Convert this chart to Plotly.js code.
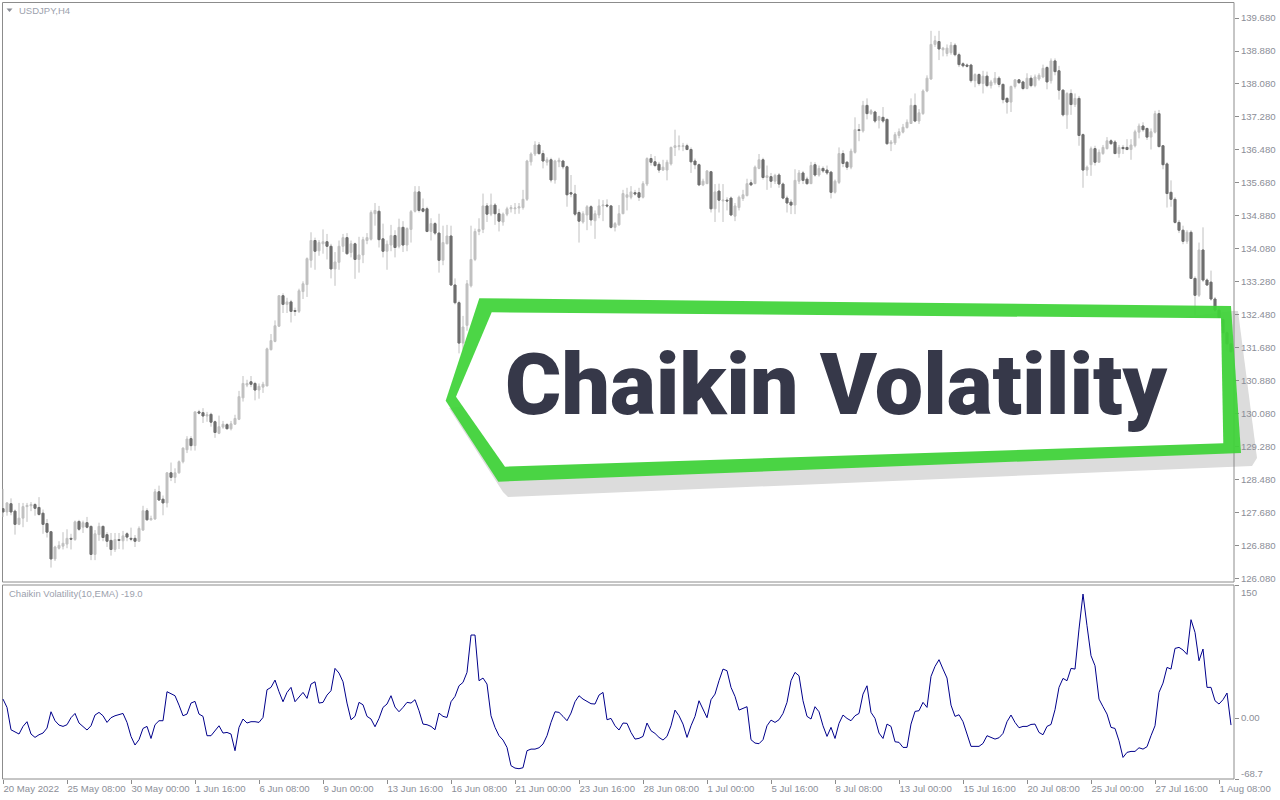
<!DOCTYPE html>
<html><head><meta charset="utf-8">
<script src="https://cdn.plot.ly/plotly-3.0.1.min.js"></script>
<style>html,body{margin:0;padding:0;background:#fff;}#chart{width:1280px;height:800px;}</style>
</head><body><div id="chart"></div>
<script>
// ---- USDJPY H4 candles (index 0 = 20 May 2022 16:00) ----
const openP = [
127.77,127.69,127.89,127.71,127.39,127.54,127.82,127.84,127.87,127.80,
127.66,127.41,127.21,126.55,126.81,126.86,126.91,127.05,127.02,127.46,
127.32,127.43,127.34,126.66,127.14,127.34,127.14,127.00,126.78,127.02,
126.99,127.16,127.05,127.05,126.98,127.25,127.72,127.50,127.52,128.18,
128.00,127.91,128.64,128.53,128.64,128.91,129.20,129.47,129.30,130.12,
130.10,130.02,130.06,129.88,129.60,129.75,129.81,129.71,129.82,129.94,
130.46,130.77,130.85,130.81,130.65,130.72,130.75,131.63,131.83,132.20,
132.94,132.73,132.79,132.58,132.56,133.04,133.21,133.80,134.28,134.03,
134.20,134.25,134.14,133.59,133.75,134.14,134.35,133.99,134.20,133.82,
133.93,134.28,134.31,134.93,134.99,134.32,134.02,134.17,134.40,134.14,
134.60,134.17,134.55,134.99,135.46,135.05,135.05,134.50,134.69,134.46,
133.80,134.20,134.39,133.20,132.77,131.79,132.22,133.18,133.82,134.50,
134.55,135.12,134.92,135.14,134.93,134.73,134.92,135.05,135.05,135.07,
135.08,135.28,136.19,136.38,136.60,136.39,136.18,136.24,135.75,136.19,
136.21,136.07,135.44,135.41,134.96,134.73,134.90,135.10,134.76,134.90,
135.12,135.14,135.12,134.60,134.66,134.93,135.33,135.33,135.44,135.44,
135.33,135.65,136.27,136.19,136.13,135.99,135.99,136.14,136.54,136.56,
136.56,136.58,136.49,136.21,136.12,135.63,135.66,135.95,135.05,135.48,
135.24,135.26,135.31,134.87,135.08,135.30,135.37,135.68,135.66,136.03,
136.24,135.81,135.83,135.72,135.87,135.65,135.31,135.21,135.14,135.72,
135.92,135.77,135.66,136.12,135.87,136.03,135.99,135.94,135.45,135.69,
136.39,136.18,136.06,136.42,136.97,136.94,137.56,137.36,137.40,137.20,
137.27,137.22,136.63,136.65,136.83,136.91,137.02,137.12,137.56,137.18,
137.36,137.91,138.20,139.04,139.11,138.91,138.82,138.84,139.02,138.79,
138.57,138.54,138.54,138.16,138.31,138.09,138.27,138.04,138.11,138.22,
138.07,137.73,137.64,138.02,138.18,138.13,137.97,138.22,138.04,138.20,
138.25,138.48,138.16,138.64,138.40,137.93,137.33,137.85,137.58,137.73,
136.85,135.99,136.12,136.51,136.18,136.39,136.51,136.70,136.67,136.39,
136.54,136.54,136.49,136.58,136.91,137.06,137.00,136.79,136.91,137.36,
136.58,136.14,135.45,135.28,134.72,134.53,134.26,134.48,133.36,132.95,
134.05,133.32,133.27,132.86,132.59,132.36,132.04,131.77];
const highP = [
128.25,127.93,128.02,127.75,127.91,127.91,127.91,127.93,127.91,128.05,
127.75,127.52,127.23,126.87,126.98,127.20,127.27,127.16,127.48,127.50,
127.48,127.57,127.36,127.25,127.43,127.36,127.20,127.18,127.18,127.18,
127.23,127.20,127.31,127.13,127.34,127.84,127.78,127.60,128.25,128.33,
128.09,128.66,128.89,128.75,128.94,129.26,129.53,129.53,130.12,130.17,
130.21,130.12,130.10,129.91,130.03,129.90,129.85,129.90,130.05,130.63,
130.99,130.90,130.99,130.85,130.81,130.85,131.68,132.01,132.34,132.95,
133.00,132.89,132.84,132.65,133.11,133.29,133.87,134.48,134.35,134.29,
134.55,134.44,134.20,134.00,134.28,134.44,134.46,134.28,134.23,134.37,
134.37,134.46,135.01,135.19,135.12,134.69,134.28,134.66,134.53,134.81,
134.75,134.60,135.02,135.60,135.60,135.30,135.10,134.82,134.73,134.93,
134.64,134.66,134.64,133.36,132.82,132.45,133.32,134.64,134.57,134.82,
135.42,135.19,135.42,135.19,135.05,134.96,135.10,135.14,135.19,135.19,
135.51,136.24,136.42,136.69,136.67,136.47,136.30,136.29,136.24,136.29,
136.24,136.10,135.87,135.63,135.01,134.99,135.14,135.14,135.01,135.28,
135.26,135.28,135.14,134.73,135.14,135.51,135.56,135.60,135.51,135.56,
135.72,136.30,136.38,136.33,136.19,136.24,136.24,136.56,136.97,136.83,
136.65,136.63,136.54,136.27,136.15,135.78,135.99,135.97,135.65,135.66,
135.65,135.33,135.35,135.19,135.37,135.51,135.78,135.76,136.10,136.38,
136.29,136.10,135.92,135.90,135.92,135.69,135.37,135.28,136.01,135.99,
135.97,135.83,136.19,136.18,136.10,136.08,136.10,135.97,135.76,136.54,
136.47,136.21,136.51,137.27,137.11,137.67,137.73,137.47,137.43,137.31,
137.52,137.24,136.72,136.91,137.00,137.11,137.22,137.73,137.85,137.47,
137.95,138.29,139.37,139.25,139.37,138.98,139.04,139.10,139.07,138.84,
138.61,138.58,138.57,138.34,138.34,138.40,138.38,138.18,138.37,138.27,
138.09,137.76,138.04,138.20,138.20,138.16,138.34,138.29,138.31,138.34,
138.55,138.52,138.70,138.70,138.52,137.95,137.88,137.95,137.85,137.79,
136.88,136.10,136.56,136.58,136.49,136.60,136.79,136.74,136.72,136.60,
136.60,136.74,136.74,136.97,137.12,137.15,137.02,137.00,137.43,137.45,
136.60,136.18,135.74,135.33,134.78,134.64,134.53,134.53,133.41,134.23,
134.60,133.36,133.55,132.91,132.68,132.41,132.09,131.90];
const lowP = [
127.57,127.60,127.61,127.14,127.37,127.32,127.45,127.71,127.60,127.60,
127.16,127.07,126.34,126.50,126.78,126.78,126.81,126.78,126.99,127.23,
127.18,127.29,126.52,126.52,126.99,126.98,126.84,126.63,126.72,126.79,
126.78,126.98,126.98,126.84,126.96,127.23,127.48,127.48,127.50,127.96,
127.61,127.80,128.44,128.39,128.62,128.87,129.12,129.18,129.18,130.06,
129.85,129.88,129.76,129.49,129.58,129.71,129.70,129.67,129.81,129.92,
130.37,130.72,130.72,130.40,130.44,130.58,130.74,131.61,131.81,132.18,
132.52,132.52,132.29,132.45,132.52,132.86,132.91,133.62,133.57,133.91,
133.96,133.82,133.36,133.18,133.57,134.00,133.93,133.87,133.35,133.50,
133.73,134.19,134.28,134.64,134.11,133.87,133.57,134.02,133.87,134.09,
134.00,134.02,134.23,134.96,134.96,134.96,134.48,134.28,134.41,133.50,
133.68,134.19,133.18,132.73,131.54,131.63,132.09,133.14,133.78,134.41,
134.46,134.73,134.87,134.66,134.50,134.64,134.87,134.96,134.92,134.93,
135.03,135.24,136.10,136.33,136.36,136.03,136.10,135.69,135.66,136.06,
136.01,135.10,135.33,134.87,134.23,134.69,134.53,134.64,134.32,134.82,
134.75,135.08,134.57,134.50,134.64,134.92,135.01,135.28,135.37,135.24,
135.30,135.60,136.10,136.06,135.92,135.97,135.74,136.10,136.33,136.47,
136.45,136.47,135.92,136.01,135.60,135.60,135.65,134.96,134.73,134.96,
134.73,135.01,134.87,134.75,135.01,135.24,135.35,135.60,135.65,136.01,
135.76,135.51,135.56,135.65,135.56,135.28,134.96,134.92,134.92,135.65,
135.65,135.63,135.65,135.83,135.83,135.92,135.87,135.30,135.42,135.65,
136.06,135.99,136.01,136.39,136.69,136.90,137.22,137.33,137.13,137.00,
137.13,136.60,136.45,136.60,136.76,136.88,137.00,137.11,137.15,137.11,
137.33,137.88,138.18,138.98,138.66,138.75,138.75,138.79,138.75,138.49,
138.48,138.48,138.11,138.00,138.04,137.85,138.00,137.97,138.06,138.00,
137.61,137.36,137.40,137.97,138.09,137.93,137.95,138.00,138.00,138.16,
138.22,137.95,138.09,138.29,137.70,137.29,136.99,137.33,137.52,136.58,
135.56,135.85,135.85,136.10,136.18,136.36,136.49,136.60,136.38,136.29,
136.38,136.47,136.24,136.54,136.76,136.92,136.72,136.49,136.88,136.54,
136.01,135.08,135.10,134.69,134.46,134.19,134.20,133.35,132.47,132.91,
133.27,133.18,132.82,132.54,132.36,132.00,131.59,131.56];
const closeP = [
127.69,127.91,127.69,127.39,127.54,127.82,127.85,127.87,127.78,127.63,
127.39,127.20,126.55,126.84,126.88,126.93,127.05,127.03,127.45,127.27,
127.43,127.32,126.66,127.16,127.34,127.07,126.98,126.78,127.02,127.00,
127.11,127.08,127.03,126.98,127.29,127.72,127.50,127.53,128.18,127.98,
127.91,128.64,128.53,128.64,128.91,129.24,129.46,129.30,130.12,130.09,
130.02,130.05,129.87,129.62,129.76,129.82,129.71,129.83,129.96,130.49,
130.81,130.81,130.79,130.65,130.74,130.79,131.65,131.85,132.21,132.94,
132.73,132.79,132.56,132.56,133.06,133.23,133.84,134.28,134.02,134.23,
134.25,134.14,133.59,133.76,134.14,134.35,133.96,134.20,133.82,133.93,
134.30,134.35,134.96,135.01,134.30,134.02,134.19,134.40,134.11,134.60,
134.17,134.57,134.98,135.46,135.01,134.99,134.50,134.69,134.46,133.80,
134.23,134.39,133.20,132.77,131.79,132.18,133.23,133.82,134.50,134.55,
135.12,134.92,135.14,134.93,134.75,134.92,135.05,135.08,135.07,135.10,
135.28,136.21,136.38,136.60,136.39,136.21,136.24,135.75,136.21,136.23,
136.07,135.39,135.41,134.92,134.75,134.93,135.10,134.78,134.93,135.12,
135.14,135.12,134.60,134.69,134.93,135.42,135.39,135.46,135.41,135.33,
135.66,136.27,136.18,136.10,135.99,136.06,136.18,136.54,136.58,136.58,
136.58,136.49,136.19,136.12,135.63,135.72,135.97,135.05,135.46,135.26,
135.26,135.24,134.90,135.12,135.33,135.39,135.66,135.63,136.06,136.24,
135.81,135.85,135.72,135.86,135.65,135.31,135.19,135.14,135.74,135.92,
135.74,135.66,136.10,135.87,136.03,135.97,135.92,135.45,135.72,136.39,
136.15,136.06,136.45,136.97,136.95,137.56,137.36,137.43,137.18,137.29,
137.18,136.63,136.67,136.85,136.92,137.03,137.15,137.56,137.18,137.38,
137.91,138.22,139.04,139.13,138.93,138.95,138.95,139.02,138.79,138.55,
138.52,138.51,138.16,138.31,138.09,138.27,138.04,138.13,138.22,138.07,
137.70,137.64,138.02,138.18,138.11,137.97,138.22,138.04,138.25,138.29,
138.46,138.13,138.64,138.38,137.93,137.33,137.85,137.58,137.73,136.83,
135.99,136.06,136.51,136.18,136.42,136.54,136.70,136.63,136.39,136.54,
136.51,136.49,136.60,136.92,137.06,136.97,136.79,136.92,137.36,136.56,
136.12,135.42,135.28,134.72,134.53,134.26,134.48,133.36,132.95,134.05,
133.32,133.20,132.86,132.59,132.41,132.04,131.77,131.58];

// ---- Chaikin Volatility(10,EMA) ----
const cvValues = [
21.4,12.0,-13.2,-15.4,-18.0,-9.4,-4.1,-18.0,-21.8,-18.8,
-16.9,-11.3,7.1,-3.0,-7.9,-9.4,-7.5,0.4,5.2,-5.6,
-9.8,-13.5,-8.7,3.4,6.4,2.6,-4.9,0.4,2.6,4.1,
5.2,-4.9,-20.7,-30.4,-24.4,-11.7,-9.4,-23.0,-7.5,-3.0,
-3.0,29.7,27.0,25.2,14.6,2.6,4.5,16.9,18.8,4.5,
1.9,-19.9,-19.9,-14.3,-8.7,-16.9,-16.2,-18.0,-36.8,-10.5,
-1.1,-5.6,-4.1,-4.1,-4.9,0.7,31.9,34.6,42.8,29.7,
18.4,28.9,34.6,18.4,23.3,28.9,22.2,38.3,40.9,16.9,
17.7,25.9,30.8,56.0,50.7,40.9,16.9,-1.9,1.9,17.7,
15.0,1.9,-1.1,-9.8,-0.4,12.0,15.8,25.2,12.4,7.1,
12.0,17.7,16.9,20.7,8.3,-6.8,-7.5,-9.4,-13.2,5.6,
1.9,0.7,18.4,24.4,36.4,40.2,51.5,93.6,93.6,42.1,
45.1,38.3,2.6,-10.5,-19.9,-24.8,-33.1,-53.7,-56.4,-57.1,
-56.0,-36.8,-35.0,-35.0,-33.5,-29.3,-19.9,-4.9,7.1,6.4,
1.9,-3.0,5.6,18.4,25.2,21.4,18.8,16.2,15.8,25.9,
28.9,-1.9,-0.4,-8.7,-13.5,-5.6,-6.0,-16.2,-23.7,-22.9,
-20.7,-5.6,-14.3,-17.3,-21.8,-24.8,-20.7,-8.7,9.0,2.6,
-6.8,-21.8,-8.7,1.9,19.5,10.1,0.4,20.7,27.0,42.1,
55.2,53.4,34.6,24.4,9.0,10.9,12.8,-24.4,-28.2,-28.9,
-24.4,-8.7,-2.3,-4.9,-1.9,5.2,17.7,42.1,51.5,47.7,
19.5,1.9,-1.1,12.8,7.1,-8.7,-20.7,-10.5,-23.0,-6.0,
3.4,-0.4,-3.0,2.6,5.2,27.0,36.4,6.4,-0.4,-16.9,
-23.0,-6.8,-9.4,-26.7,-27.4,-33.1,-33.1,-6.8,7.5,8.3,
17.7,12.0,47.0,58.2,65.8,55.2,45.1,14.6,1.9,3.7,
-4.1,-18.0,-31.9,-31.9,-31.9,-28.6,-19.9,-21.8,-23.7,-22.2,
-17.3,-4.1,3.4,-4.9,-10.9,-9.4,-9.4,-7.2,-6.8,-16.2,
-18.8,-9.4,-7.2,9.4,34.6,44.7,42.1,56.0,55.2,100.3,
139.8,104.1,70.3,59.0,21.4,12.8,4.5,-10.5,-11.7,-25.6,
-44.4,-38.7,-37.6,-37.6,-33.5,-35.0,-32.3,-19.9,-8.7,28.9,
39.4,57.1,55.2,78.5,79.7,76.7,71.8,110.9,96.6,64.6,
77.8,34.6,34.6,19.5,15.8,20.7,28.2,-7.9];

// ---- axis labels ----
const timeTickIdx = [0,16,32,48,64,80,96,112,128,144,160,176,192,208,224,240,256,272,288,304];
const timeTickText = ['20 May 2022','25 May 08:00','30 May 00:00','1 Jun 16:00','6 Jun 08:00','9 Jun 00:00',
  '13 Jun 16:00','16 Jun 08:00','21 Jun 00:00','23 Jun 16:00','28 Jun 08:00','1 Jul 00:00','5 Jul 16:00',
  '8 Jul 08:00','13 Jul 00:00','15 Jul 16:00','20 Jul 08:00','25 Jul 00:00','27 Jul 16:00','1 Aug 08:00'];
const priceTicks = [126.08,126.88,127.68,128.48,129.28,130.08,130.88,131.68,132.48,133.28,
  134.08,134.88,135.68,136.48,137.28,138.08,138.88,139.68];
const cvMax = 150, cvMin = -68.7;
const symbolLabel = 'USDJPY,H4';
const indicatorLabel = 'Chaikin Volatility(10,EMA) -19.0';
const bannerText = 'Chaikin Volatility';

// ---- layout helpers (pixel -> paper) ----
const W = 1280, H = 800, M = {l:2, r:46, t:2, b:21};
const PW = W - M.l - M.r, PH = H - M.t - M.b;
const fx = px => (px - M.l) / PW;
const fy = py => 1 - (py - M.t) / PH;
const poly = pts => 'M ' + pts.map(p => fx(p[0]).toFixed(5) + ',' + fy(p[1]).toFixed(5)).join(' L ') + ' Z';

const barIdx = closeP.map((_, i) => i);
const dn = barIdx.filter(i => closeP[i] < openP[i]);

const gray = '#c0c0c0', dark = '#6e6e6e';
const axisFont = {family: 'Liberation Sans, Arial, sans-serif', size: 9.6, color: '#8b8e97'};

const traces = [
  {type: 'candlestick', x: barIdx, open: openP, high: highP, low: lowP, close: closeP,
   xaxis: 'x', yaxis: 'y', whiskerwidth: 0, hoverinfo: 'skip', showlegend: false,
   increasing: {line: {color: gray, width: 1}, fillcolor: gray},
   decreasing: {line: {color: gray, width: 1}, fillcolor: dark}},
  {type: 'candlestick', x: dn, open: dn.map(i => openP[i]), high: dn.map(i => openP[i]),
   low: dn.map(i => closeP[i]), close: dn.map(i => closeP[i]),
   xaxis: 'x', yaxis: 'y', whiskerwidth: 0, hoverinfo: 'skip', showlegend: false,
   increasing: {line: {color: dark, width: 1}, fillcolor: dark},
   decreasing: {line: {color: dark, width: 1}, fillcolor: dark}},
  {type: 'scatter', mode: 'lines', x: barIdx, y: cvValues, xaxis: 'x', yaxis: 'y2',
   line: {color: '#00008b', width: 1}, hoverinfo: 'skip', showlegend: false}
];

const frameColor = '#8c8c8c';
const shapes = [
  // banner shadow
  {type: 'path', xref: 'paper', yref: 'paper', layer: 'below', line: {width: 0}, fillcolor: '#dcdcdc',
   path: poly([[449,408],[1232,311],[1238,311],[1257,458],[1252,466],[508,497],[503,492]])},
  // window frames
  {type: 'rect', xref: 'paper', yref: 'paper', layer: 'below', x0: fx(2.5), x1: fx(1234), y0: fy(582), y1: fy(2.5),
   line: {color: frameColor, width: 1}, fillcolor: 'rgba(0,0,0,0)'},
  {type: 'rect', xref: 'paper', yref: 'paper', layer: 'below', x0: fx(2.5), x1: fx(1234), y0: fy(779), y1: fy(585),
   line: {color: frameColor, width: 1}, fillcolor: 'rgba(0,0,0,0)'},
  // banner green outline & white body
  {type: 'path', xref: 'paper', yref: 'paper', layer: 'above', line: {width: 0}, fillcolor: 'rgba(62,211,56,0.93)',
   path: poly([[445.7,400.7],[479.3,298.3],[1231,306],[1241,453],[498.3,481.7]])},
  {type: 'path', xref: 'paper', yref: 'paper', layer: 'above', line: {width: 0}, fillcolor: '#ffffff',
   path: poly([[456,396.7],[491.7,312.3],[1221,318.3],[1223.3,443.3],[505,466.7]])},
  // small menu triangle
  {type: 'path', xref: 'paper', yref: 'paper', layer: 'above', line: {width: 0}, fillcolor: '#8a8d96',
   path: poly([[6.5,8.5],[12.5,8.5],[9.5,12]])}
];

const annotations = [
  {xref: 'paper', yref: 'paper', x: fx(17), y: fy(10.5), xanchor: 'left', yanchor: 'middle', showarrow: false,
   text: symbolLabel, font: {family: 'Liberation Sans, Arial, sans-serif', size: 9.5, color: '#9ca1ad'}},
  {xref: 'paper', yref: 'paper', x: fx(7), y: fy(593), xanchor: 'left', yanchor: 'middle', showarrow: false,
   text: indicatorLabel, font: {family: 'Liberation Sans, Arial, sans-serif', size: 9.5, color: '#9ca1ad'}},
  {xref: 'paper', yref: 'paper', x: fx(1239), y: fy(592), xanchor: 'left', yanchor: 'middle', showarrow: false,
   text: String(cvMax), font: axisFont},
  {xref: 'paper', yref: 'paper', x: fx(1239), y: fy(773), xanchor: 'left', yanchor: 'middle', showarrow: false,
   text: String(cvMin), font: axisFont},
  {xref: 'paper', yref: 'paper', x: fx(503), y: fy(384), xanchor: 'left', yanchor: 'middle', showarrow: false,
   text: bannerText, font: {family: 'Roboto, Liberation Sans, Arial, sans-serif', size: 86, weight: 900, color: '#363849'}}
];

const layout = {
  width: W, height: H, margin: M, paper_bgcolor: '#ffffff', plot_bgcolor: 'rgba(0,0,0,0)',
  showlegend: false, hovermode: false, dragmode: false,
  xaxis: {domain: [0, 1], anchor: 'y2', range: [-0.25, 307.75], showgrid: false, zeroline: false, showline: false,
    tickmode: 'array', tickvals: timeTickIdx, ticktext: timeTickText, ticks: 'outside', ticklen: 4,
    tickcolor: frameColor, ticklabelposition: 'outside right', tickangle: 0, tickfont: axisFont,
    rangeslider: {visible: false}, fixedrange: true},
  yaxis: {domain: [fy(582), fy(2)], anchor: 'x', side: 'right', range: [125.99, 140.07], showgrid: false,
    zeroline: false, showline: false, tickmode: 'array', tickvals: priceTicks, tickformat: '.3f',
    ticks: 'outside', ticklen: 4, tickcolor: frameColor, tickfont: axisFont, fixedrange: true},
  yaxis2: {domain: [0, fy(585)], anchor: 'x', side: 'right', range: [cvMin, cvMax], showgrid: false,
    zeroline: false, showline: false, tickmode: 'array', tickvals: [cvMax, 0, cvMin], ticktext: ['', '0.00', ''],
    ticks: 'outside', ticklen: 4, tickcolor: frameColor, tickfont: axisFont, fixedrange: true},
  shapes: shapes, annotations: annotations
};

Plotly.newPlot('chart', traces, layout, {displayModeBar: false, staticPlot: true});
</script>
</body></html>
